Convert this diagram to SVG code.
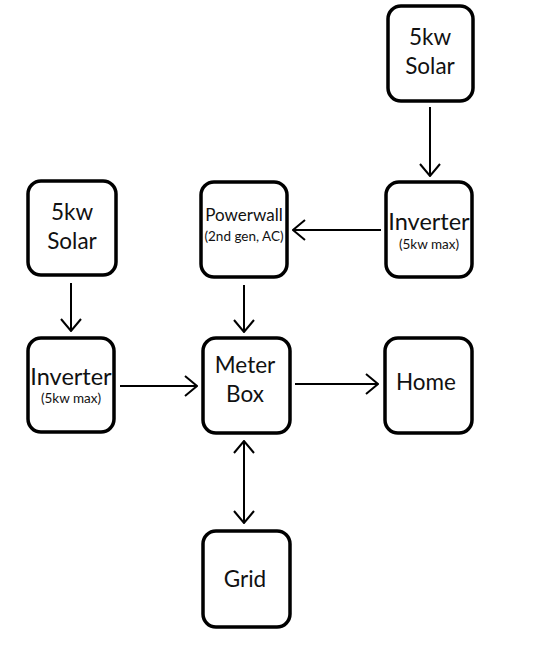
<svg xmlns="http://www.w3.org/2000/svg" width="540" height="650" viewBox="0 0 540 650">
<style>
.box{fill:#fff;stroke:#000;stroke-width:3.5}
.t{font-family:Lato,"Open Sans","Liberation Sans",sans-serif;fill:#111;text-anchor:middle}
.big{font-size:22.5px}
.inv{font-size:23.5px}
.mid{font-size:17px}
.sm{font-size:13.5px}
.c{stroke:#000;stroke-width:2;fill:none}
</style>
<defs>
<marker id="ah" viewBox="0 0 14 22" refX="13" refY="11" markerWidth="14" markerHeight="22" markerUnits="userSpaceOnUse" orient="auto-start-reverse">
<path d="M1,1 L13,11 L1,21" fill="none" stroke="#000" stroke-width="2"/>
</marker>
</defs>
<rect width="540" height="650" fill="#fff"/>
<g id="connectors">
<line class="c" x1="430" y1="107" x2="430" y2="176" marker-end="url(#ah)"/>
<line class="c" x1="381" y1="230" x2="293" y2="230" marker-end="url(#ah)"/>
<line class="c" x1="244" y1="285" x2="244" y2="332" marker-end="url(#ah)"/>
<line class="c" x1="71" y1="283" x2="71" y2="331" marker-end="url(#ah)"/>
<line class="c" x1="120" y1="386" x2="197" y2="386" marker-end="url(#ah)"/>
<line class="c" x1="295" y1="384" x2="378" y2="384" marker-end="url(#ah)"/>
<line class="c" x1="244" y1="441" x2="244" y2="523" marker-start="url(#ah)" marker-end="url(#ah)"/>
</g>
<g id="solar-top">
<rect class="box" x="388" y="6" width="85" height="95" rx="13"/>
<text class="t big" x="430" y="45">5kw</text>
<text class="t big" x="430" y="74">Solar</text>
</g>
<g id="inverter-right">
<rect class="box" x="386" y="182" width="86" height="95" rx="13"/>
<text class="t inv" x="429" y="230">Inverter</text>
<text class="t sm" x="429" y="249">(5kw max)</text>
</g>
<g id="powerwall">
<rect class="box" x="201" y="182" width="86" height="95" rx="13"/>
<text class="t mid" x="244" y="221">Powerwall</text>
<text class="t sm" x="244" y="241">(2nd gen, AC)</text>
</g>
<g id="solar-left">
<rect class="box" x="28" y="181" width="88" height="94" rx="13"/>
<text class="t big" x="72" y="220">5kw</text>
<text class="t big" x="72" y="249">Solar</text>
</g>
<g id="inverter-left">
<rect class="box" x="28" y="338" width="86" height="94" rx="13"/>
<text class="t inv" x="71" y="385">Inverter</text>
<text class="t sm" x="71" y="403">(5kw max)</text>
</g>
<g id="meter-box">
<rect class="box" x="203" y="338" width="87" height="95" rx="13"/>
<text class="t big" x="245" y="373">Meter</text>
<text class="t big" x="245" y="402">Box</text>
</g>
<g id="home">
<rect class="box" x="385" y="338" width="87" height="95" rx="13"/>
<text class="t big" x="426" y="390">Home</text>
</g>
<g id="grid">
<rect class="box" x="203" y="531" width="87" height="96" rx="13"/>
<text class="t big" x="245" y="587">Grid</text>
</g>
</svg>
